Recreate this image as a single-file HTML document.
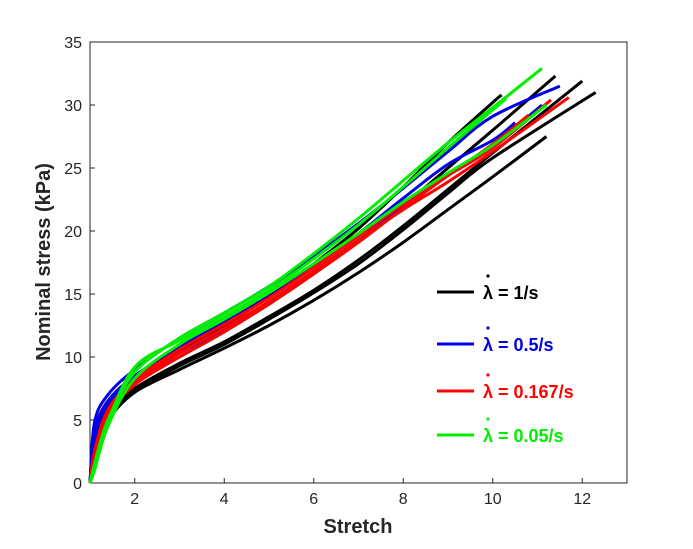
<!DOCTYPE html>
<html><head><meta charset="utf-8"><style>
body{margin:0;background:#fff;font-family:"Liberation Sans",Arial,sans-serif}
svg text{font-family:"Liberation Sans",Arial,sans-serif}
</style></head><body>
<svg id="chart" width="693" height="544" viewBox="0 0 693 544"></svg>
<script>
const stretch=[1,1.1,1.4,2,3,4,5,6,7,8,9,10];
const blackA=[0,4,6.5,8,10.5,12.5,14.8,17.4,20.2,23.5,27,30.2];
const blackB=[0,3.5,6,8,10,12,14.2,16.6,19.2,22,25,28];
const blackC=[0,3,5.5,7.5,9.5,11.2,13.2,15.3,17.7,20.4,23.3,26.2];
const blackD=[0,2.5,5.5,7.3,9.3,11,13,15.1,17.4,20.1,23,25.8];
const blackE=[0,2.5,5,7.2,9,10.7,12.5,14.5,16.7,19.1,21.7,24.3];
const blueA=[0,4.8,7,9,11.5,13.5,15.6,18,20.6,23.4,26.3,29.1];
const blueB=[0,4,6.5,8.5,10.8,12.8,15,17.3,19.8,22.6,25.3,27.2];
const blueC=[0,3.5,6.3,8.2,10.3,12.2,14.4,16.8,19.3,21.9,24.5,26.8];
const redA=[0,2,5.5,8,10.3,12.3,14.4,16.8,19.3,21.7,23.9,26.3];
const redB=[0,2.5,5.8,8.2,10.6,12.6,14.7,17.1,19.6,22.1,24.4,26.6];
const redC=[0,1.8,5.3,7.8,10,12,14.2,16.6,19.1,21.8,24.4,26.9];
const greenA=[0,1.5,5,8.8,11.5,13.5,15.6,18.2,21,24,27,29.8];
const greenB=[0,1,4.5,8.3,11,13,15.1,17.4,19.8,22.3,24.6,26.8];
const greenC=[0,1.2,4.8,9.2,11.3,13.2,15.3,17.8,20.5,23.5,26.6,29.6];
const endX=[10.2,11.4,12,12.3,11.2,11.5,10.5,11.1,11.7,11.3,10.8,11.1,11.2,10.3];
const endY=[30.8,32.3,31.9,31.0,27.5,31.5,28.6,30.0,30.6,30.4,29.2,32.9,30.0,30.5];
const curveSets=[blackA,blackB,blackC,blackD,blackE,blueA,blueB,blueC,redA,redB,redC,greenA,greenB,greenC];
const curveColors=['#000','#000','#000','#000','#000','#0000e6','#0000e6','#0000e6','#ff0000','#ff0000','#ff0000','#00ee00','#00ee00','#00ee00'];
const xTicks=[2,4,6,8,10,12];
const yTicks=[0,5,10,15,20,25,30,35];
const legendLabels=['1/s','0.5/s','0.167/s','0.05/s'];
const legendColors=['#000','#0000e6','#ff0000','#00ee00'];

const L=90,R=627,T=42,B=483,xMin=1,xMax=13,yMin=0,yMax=35;
const sx=v=>L+(v-xMin)/(xMax-xMin)*(R-L);
const sy=v=>B-(v-yMin)/(yMax-yMin)*(B-T);
const svg=document.getElementById('chart');
const NS='http://www.w3.org/2000/svg';
function mk(tag,attrs,parent){const e=document.createElementNS(NS,tag);for(const k in attrs)e.setAttribute(k,attrs[k]);(parent||svg).appendChild(e);return e;}

const box=mk('rect',{x:L,y:T,width:R-L,height:B-T,fill:'#fff',stroke:'#262626','stroke-width':1});



xTicks.forEach(t=>{
  const ln=mk('line',{x1:sx(t),x2:sx(t),y1:B,y2:B-5,stroke:'#262626'});
  
  
  const tx=mk('text',{x:sx(t),y:B+21,'text-anchor':'middle','font-size':16,fill:'#262626'});
  tx.textContent=t;
  
  
});
yTicks.forEach(t=>{
  const ln=mk('line',{x1:L,x2:L+5,y1:sy(t),y2:sy(t),stroke:'#262626'});
  
  
  const tx=mk('text',{x:L-8,y:sy(t)+6,'text-anchor':'end','font-size':16,fill:'#262626'});
  tx.textContent=t;
  
  
});
const xl=mk('text',{x:358,y:533,'text-anchor':'middle','font-size':20,'font-weight':'bold',fill:'#262626'});
xl.textContent='Stretch';


const yl=mk('text',{x:0,y:0,transform:'translate(50,262) rotate(-90)','text-anchor':'middle','font-size':20,'font-weight':'bold',fill:'#262626'});
yl.textContent='Nominal stress (kPa)';



function smooth(pts){
  let d='M'+pts[0][0]+','+pts[0][1];
  for(let i=0;i<pts.length-1;i++){
    const p0=pts[Math.max(0,i-1)],p1=pts[i],p2=pts[i+1],p3=pts[Math.min(pts.length-1,i+2)];
    const c1=[p1[0]+(p2[0]-p0[0])/6,p1[1]+(p2[1]-p0[1])/6];
    const c2=[p2[0]-(p3[0]-p1[0])/6,p2[1]-(p3[1]-p1[1])/6];
    d+=' C'+c1[0]+','+c1[1]+' '+c2[0]+','+c2[1]+' '+p2[0]+','+p2[1];
  }
  return d;
}
curveSets.forEach((ys,i)=>{
  const pts=stretch.map((x,j)=>[sx(x),sy(ys[j])]);
  pts.push([sx(endX[i]),sy(endY[i])]);
  const p=mk('path',{d:smooth(pts),fill:'none',stroke:curveColors[i],'stroke-width':3,'stroke-linejoin':'round'});
  
  
});

const legY=[292,344,391,435];
legendLabels.forEach((lab,i)=>{
  const ln=mk('line',{x1:437,x2:474,y1:legY[i],y2:legY[i],stroke:legendColors[i],'stroke-width':3});
  
  
  const tx=mk('text',{x:483,y:legY[i]+7,'font-size':18,'font-weight':'bold',fill:legendColors[i]});
  tx.textContent='λ = '+lab;
  
  
  const dot=mk('circle',{cx:488,cy:legY[i]-16,r:1.6,fill:legendColors[i]});
  
  
});
</script>
</body></html>
